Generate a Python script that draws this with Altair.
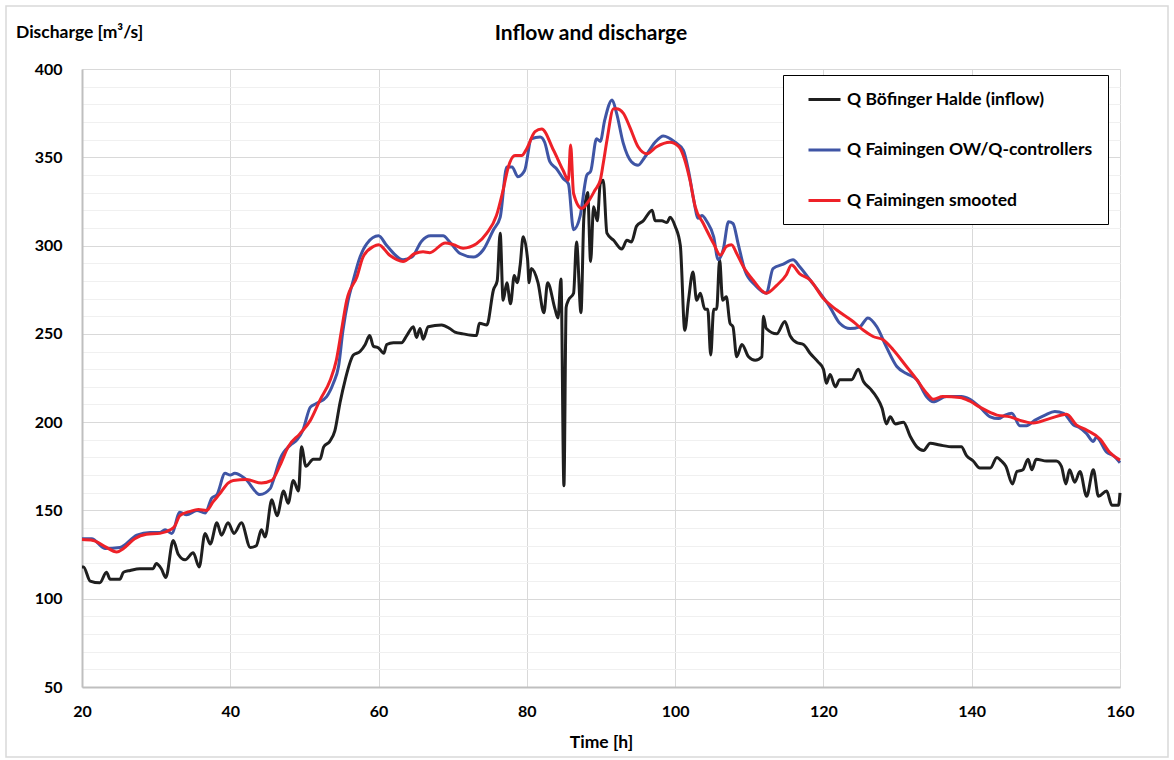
import altair as alt
import pandas as pd

SERIES = [
    "Q Böfinger Halde (inflow)",
    "Q Faimingen OW/Q-controllers",
    "Q Faimingen smooted",
]
COLORS = ["#1f1f1f", "#3f55a5", "#ee2128"]

# Inflow at Böfinger Halde [m³/s] over time [h]
inflow_t = [20.0, 20.2, 21.1, 22.4, 23.3, 23.8, 25.1, 25.6, 26.5, 27.8, 29.6, 30.0, 30.7, 31.3,
            32.3, 33.0, 33.9, 35.0, 35.8, 36.6, 37.3, 38.2, 38.8, 39.7, 40.5, 41.5, 42.7, 43.5,
            44.2, 44.7, 45.6, 46.3, 47.2, 47.8, 48.5, 49.2, 49.6, 50.2, 51.2, 52.1, 52.6, 53.4,
            54.1, 54.8, 55.5, 56.6, 57.5, 58.2, 58.8, 59.3, 60.0, 60.7, 61.1, 62.0, 63.1, 63.8,
            64.7, 65.1, 65.6, 66.0, 66.7, 68.5, 69.6, 70.3, 71.4, 73.2, 73.6, 74.6, 75.5, 76.0,
            76.4, 76.8, 77.3, 77.8, 78.3, 78.7, 79.1, 79.5, 80.1, 80.3, 80.6, 81.5, 82.3, 82.8,
            83.8, 84.2, 84.6, 85.0, 85.3, 85.6, 86.3, 86.7, 87.3, 87.7, 88.2, 88.6, 89.0, 89.5,
            89.9, 90.3, 90.8, 91.7, 92.8, 93.5, 94.1, 94.8, 95.7, 96.9, 97.3, 98.2, 98.9, 99.3,
            100.0, 100.7, 101.3, 101.8, 102.4, 102.9, 103.4, 104.0, 104.4, 104.8, 105.2, 105.6,
            106.0, 106.4, 106.9, 107.4, 107.8, 108.3, 109.0, 109.9, 110.8, 111.7, 111.9, 112.3,
            113.7, 114.8, 115.5, 116.4, 117.3, 118.2, 119.3, 120.0, 120.4, 120.9, 121.6, 122.2,
            123.8, 124.7, 125.4, 126.3, 127.2, 127.9, 128.5, 129.0, 129.7, 130.8, 131.7, 132.6,
            133.5, 134.4, 135.7, 137.5, 138.6, 139.3, 140.2, 141.1, 142.5, 143.4, 144.0, 144.6,
            145.5, 146.1, 146.9, 147.6, 148.1, 148.7, 150.1, 151.4, 152.1, 152.7, 153.2, 153.9,
            154.6, 155.5, 156.4, 157.1, 158.2, 158.9, 159.8, 160.0]
inflow_q = [118, 118, 110, 109, 115, 111, 111, 115, 116, 117, 117, 120, 117, 112,
            133, 125, 122, 126, 118, 137, 131, 143, 136, 143, 137, 143, 129, 130,
            139, 135, 156, 147, 161, 154, 167, 161, 186, 175, 179, 179, 186, 189,
            195, 211, 224, 238, 240, 244, 249, 243, 242, 239, 244, 245, 245, 249,
            254, 248, 253, 247, 254, 255, 253, 251, 250, 249, 256, 255, 275, 280,
            307, 269, 279, 267, 283, 279, 289, 305, 292, 279, 287, 279, 262, 279,
            264, 259, 281, 164, 265, 269, 273, 302, 262, 317, 330, 291, 322, 314,
            335, 337, 307, 303, 298, 303, 302, 311, 314, 320, 314, 314, 313, 316,
            311, 300, 252, 269, 285, 269, 273, 264, 264, 238, 264, 264,
            292, 269, 271, 256, 254, 237, 244, 237, 235, 237, 260, 253,
            250, 257, 249, 245, 244, 239, 234, 230, 222, 227, 220, 224,
            224, 230, 223, 219, 214, 208, 199, 203, 199, 200, 192, 186,
            184, 188, 187, 186, 186, 181, 178, 174, 174, 180, 178, 175,
            165, 172, 173, 179, 173, 179, 178, 178, 175, 165, 173, 166,
            172, 158, 173, 158, 161, 153, 153, 160]

# Discharge at Faimingen, OW/Q-controllers
ctrl_t = [20.0, 21.3, 23.1, 25.1, 27.4, 29.2, 30.5, 31.2, 32.1, 33.2, 34.1, 35.5, 36.6, 37.5,
          38.2, 39.3, 40.0, 40.6, 42.0, 44.0, 45.4, 45.8, 46.7, 48.1, 49.0, 49.8, 50.8, 51.6,
          53.0, 53.9, 54.6, 55.2, 55.9, 56.6, 57.5, 58.4, 60.0, 61.1, 63.3, 64.5, 65.8, 67.0,
          68.7, 69.6, 71.0, 72.8, 74.1, 75.5, 76.4, 77.3, 78.0, 78.8, 79.7, 80.6, 81.8, 82.4,
          83.1, 84.0, 84.9, 85.6, 86.3, 87.2, 88.1, 88.6, 89.4, 89.9, 90.5, 91.5, 92.1, 93.0,
          94.1, 95.0, 95.9, 97.3, 98.4, 100.0, 101.1, 101.8, 102.5, 103.1, 103.6, 104.3, 105.2,
          105.8, 106.5, 107.2, 107.8, 108.5, 109.4, 110.8, 112.3, 113.2, 114.6, 115.9, 116.8,
          118.2, 120.9, 122.2, 123.6, 124.9, 126.0, 127.2, 128.5, 129.9, 131.2, 132.6, 133.9,
          134.8, 136.6, 138.6, 139.7, 141.1, 142.5, 143.6, 144.5, 145.4, 146.5, 147.4, 148.5,
          149.9, 151.2, 152.4, 153.7, 154.5, 155.5, 156.4, 156.8, 158.2, 159.1, 160.0]
ctrl_q = [134, 134, 128.5, 129, 136, 137.5, 137.5, 139, 137, 149, 147.5, 150, 148.5, 157,
          159, 171, 170, 171, 168, 159, 162.5, 167, 179, 187, 190, 195.5, 208.5, 210.5,
          214.5, 222, 231.5, 252, 269, 280.5, 293.5, 301, 305.5, 300, 292, 293.5, 302.5, 305.5,
          305.5, 302, 295.5, 293.5, 297.5, 309, 316, 344.5, 344.5, 339, 342.5, 360.5, 361.5, 358.5,
          347.5, 343.5, 338, 335, 309, 317, 340, 342, 360.5, 359, 371, 382.5, 375, 358,
          347.5, 345.5, 350, 358.5, 362, 358.5, 354, 342.5, 326, 315.5, 317, 313.5, 305,
          292, 298, 313.5, 312.5, 301, 286, 277.5, 273, 287, 289.5, 292, 288,
          280.5, 265, 256, 253, 254, 259, 254, 242.5, 231.5, 227.5, 224, 214.5,
          211.5, 214.5, 214.5, 213, 208.5, 203, 202, 204, 205, 198, 198, 201,
          204, 206, 205, 198.5, 197, 193.5, 189, 191.5, 183, 181, 177]

# Discharge at Faimingen, smoothed
smooth_t = [20.0, 21.5, 23.1, 24.7, 25.6, 27.1, 28.7, 30.5, 31.9, 32.5, 33.2, 34.6, 35.7, 36.8,
            37.7, 38.6, 39.7, 40.4, 42.2, 44.2, 45.6, 46.7, 47.8, 49.4, 50.8, 52.1, 53.5, 54.3,
            55.0, 55.7, 57.1, 57.9, 59.3, 60.0, 61.5, 63.3, 64.9, 66.0, 66.9, 69.0, 70.1, 71.4,
            73.2, 74.6, 75.9, 76.8, 77.5, 78.4, 79.3, 80.0, 81.1, 82.0, 83.6, 84.9, 85.6, 85.9,
            86.3, 87.4, 88.3, 89.2, 89.9, 90.3, 90.8, 91.7, 92.1, 93.0, 93.9, 95.0, 96.2, 97.5,
            99.3, 100.5, 101.3, 102.0, 102.7, 103.8, 105.2, 106.1, 106.9, 107.6, 108.3, 109.2,
            110.5, 112.3, 113.7, 115.0, 115.7, 116.8, 118.2, 120.0, 121.8, 124.0, 125.4, 126.7,
            128.1, 129.4, 131.2, 132.6, 133.9, 134.8, 136.1, 138.4, 139.7, 141.1, 143.4, 145.2,
            146.5, 148.3, 150.5, 152.8, 154.1, 155.5, 157.3, 158.6, 160.0]
smooth_q = [133.5, 133, 129.5, 126.5, 128.5, 134, 136.5, 137, 139, 141, 147, 149.5, 150.5, 150,
            155, 159.5, 165.5, 167, 167.5, 165.5, 167, 175.5, 186, 193.5, 201, 212.5, 224, 235,
            252, 269, 282.5, 293.5, 299.5, 300.5, 294.5, 291, 295.5, 296.5, 296, 301.5, 300.5, 298.5,
            301, 307, 317, 331.5, 344.5, 351, 351, 355, 364.5, 366, 354, 342.5, 337, 357,
            329.5, 321, 325, 331.5, 337, 346.5, 359.5, 377.5, 377.5, 375, 367, 356, 352, 356,
            358.5, 356, 348.5, 337, 322, 312.5, 301, 294.5, 299.5, 300.5, 295.5, 288,
            280.5, 273, 277.5, 283.5, 289, 284, 280.5, 270, 263.5, 257, 252, 248.5,
            246.5, 241, 231.5, 224, 216.5, 213, 214.5, 214, 212, 208.5, 204, 203,
            201, 199.5, 202, 204.5, 198.5, 195.5, 190.5, 183, 178.5]

parts = []
for name, t, q in zip(SERIES, [inflow_t, ctrl_t, smooth_t], [inflow_q, ctrl_q, smooth_q]):
    parts.append(pd.DataFrame({"time": t, "q": q, "series": name}))
df = pd.concat(parts, ignore_index=True)

FONT = "Lato"

x_axis = alt.Axis(
    values=list(range(20, 161, 20)),
    title="Time [h]",
    grid=True,
    gridColor="#d9d9d9",
    gridWidth=1,
    ticks=False,
    domainColor="#bfbfbf",
    domainWidth=2,
    labelPadding=16,
    labelFlush=False,
    titleY=55,
    titleBaseline="middle",
    titleFontSize=17.5,
)

y_axis = alt.Axis(
    values=list(range(50, 401, 10)),
    labelExpr="datum.value % 50 === 0 ? datum.label : ''",
    title=None,
    grid=True,
    gridColor=alt.condition("datum.value % 50 === 0", alt.value("#d9d9d9"), alt.value("#f0f0f0")),
    gridWidth=1,
    ticks=False,
    domainColor="#bfbfbf",
    domainWidth=2,
    labelPadding=20,
    labelFlush=False,
)

lines = alt.Chart(df).mark_line(strokeWidth=3, interpolate="monotone", strokeJoin="round").encode(
    x=alt.X("time:Q", scale=alt.Scale(domain=[20, 160], nice=False, zero=False), axis=x_axis),
    y=alt.Y("q:Q", scale=alt.Scale(domain=[50, 400], nice=False, zero=False), axis=y_axis),
    color=alt.Color(
        "series:N",
        scale=alt.Scale(domain=SERIES, range=COLORS),
        legend=alt.Legend(
            title=None,
            orient="none",
            legendX=701,
            legendY=6,
            direction="vertical",
            strokeColor="black",
            fillColor="white",
            padding=15,
            # a 32 px stroke drawn to the right of the symbol slot
            symbolType="M0.125,0H4.125",
            symbolSize=256,
            symbolStrokeWidth=3,
            labelFont=FONT,
            labelFontWeight="bold",
            labelFontSize=17.5,
            labelColor="black",
            labelOffset=30,
            rowPadding=32.5,
            labelLimit=400,
        ),
    ),
)

# light frame around the whole figure
frame = alt.Chart(pd.DataFrame({"k": [0]})).mark_rect(
    filled=False, stroke="#d9d9d9", strokeWidth=1.5
).encode(
    x=alt.value(-76), x2=alt.value(1086), y=alt.value(-63), y2=alt.value(688)
)

# chart heading and y-axis caption
heading = alt.Chart(pd.DataFrame({"k": [0]})).mark_text(
    text="Inflow and discharge", font=FONT, fontSize=21, fontWeight="bold",
    color="black", align="center", baseline="middle"
).encode(x=alt.value(509), y=alt.value(-35))

y_caption = alt.Chart(pd.DataFrame({"k": [0]})).mark_text(
    text="Discharge [m³/s]", font=FONT, fontSize=17.5, fontWeight="bold",
    color="black", align="left", baseline="middle"
).encode(x=alt.value(-66), y=alt.value(-36))

chart = alt.layer(frame, lines, heading, y_caption).properties(
    width=1038,
    height=618,
    padding={"left": 82, "top": 69, "right": 54, "bottom": 73},
    autosize=alt.AutoSizeParams(type="none"),
    background="white",
).configure_view(strokeWidth=0).configure_axis(
    labelFont=FONT,
    labelFontWeight="bold",
    labelFontSize=16,
    labelColor="black",
    titleFont=FONT,
    titleFontWeight="bold",
    titleFontSize=16,
    titleColor="black",
)

chart.save("out.html", embed_options={"renderer": "svg", "actions": False})
